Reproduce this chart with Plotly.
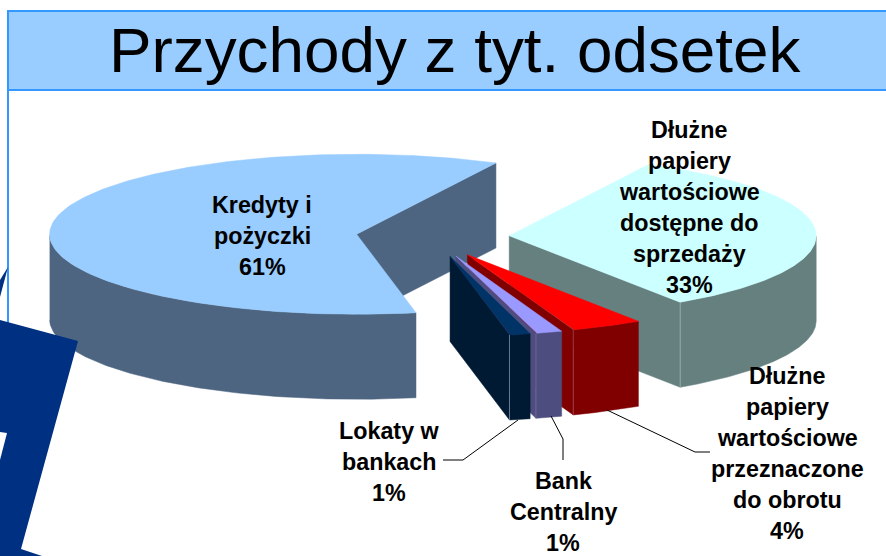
import numpy as np
import plotly.graph_objects as go

# ---- data (clockwise from the start angle) ----
categories = ["Dłużne papiery wartościowe dostępne do sprzedaży",
              "Dłużne papiery wartościowe przeznaczone do obrotu",
              "Bank Centralny", "Lokaty w bankach", "Kredyty i pożyczki"]
values = [33.1, 3.8, 1.4, 1.1, 60.6]
label_lines = [["Dłużne", "papiery", "wartościowe", "dostępne do", "sprzedaży"],
               ["Dłużne", "papiery", "wartościowe", "przeznaczone", "do obrotu"],
               ["Bank", "Centralny"], ["Lokaty w", "bankach"], ["Kredyty i", "pożyczki"]]

# ---- styles / layout ----
top_colors = ["#CCFFFF", "#FF0000", "#9999FF", "#003366", "#99CCFF"]
wall_colors = ["#668080", "#800000", "#4D4D80", "#001A33", "#4D6580"]
edge_colors = ["#9DB0B0", "#A04050", "#7A6A9A", "#7E8EA8", "#4D6580"]
label_pos = [(689, 130), (787, 376), (563, 481), (389, 431), (262, 205)]
LINE_H = 31
CX, CY, A, B, DEPTH, EXPLODE, START = 432.6, 237, 307, 80, 85, 0.25, 63
FONT = "Liberation Sans"

def pt(t, ox, oy, dz=0):
    r = np.radians(t)
    return ox + A * np.cos(r), oy - B * np.sin(r) + dz

fig = go.Figure()

def poly(xs, ys, color):
    fig.add_trace(go.Scatter(x=list(xs), y=list(ys), mode="lines", fill="toself",
                             fillcolor=color, line=dict(color=color, width=0.5),
                             hoverinfo="skip", showlegend=False))

def seg(xs, ys, color, width=1):
    fig.add_trace(go.Scatter(x=list(xs), y=list(ys), mode="lines",
                             line=dict(color=color, width=width),
                             hoverinfo="skip", showlegend=False))

# slices spans, clockwise from START
ends = START - np.cumsum(values) * 3.6
starts = np.concatenate(([START], ends[:-1]))
order = [4, 0, 1, 2, 3]  # back to front
for i in order:
    t1, t0 = starts[i], ends[i]      # t0 < t1
    mid = np.radians((t0 + t1) / 2)
    ox = CX + EXPLODE * A * np.cos(mid)
    oy = CY - EXPLODE * B * np.sin(mid)
    # radial walls facing the viewer
    for t, normal in ((t0, t0 - 90), (t1, t1 + 90)):
        if np.sin(np.radians(normal)) < 0:
            x, y = pt(t, ox, oy)
            poly([ox, x, x, ox, ox], [oy, y, y + DEPTH, oy + DEPTH, oy], wall_colors[i])
    # outer rim wall: visible where sin(t) <= 0
    ts = np.linspace(t0, t1, 240)
    vis = ts[np.sin(np.radians(ts)) <= 0]
    if len(vis):
        xa, ya = pt(vis, ox, oy)
        poly(np.concatenate((xa, xa[::-1])),
             np.concatenate((ya, (ya + DEPTH)[::-1])), wall_colors[i])
    # top surface
    xt, yt = pt(ts, ox, oy)
    poly(np.concatenate(([ox], xt, [ox])), np.concatenate(([oy], yt, [oy])), top_colors[i])
    # corner edge between radial wall and rim
    if i != 4:
        x, y = pt(t0, ox, oy)
        seg([x, x], [y, y + DEPTH], edge_colors[i], 0.8)

# leader lines
leaders = [([518, 463, 443], [420, 460, 460]),
           ([551, 563, 563], [416, 439, 460]),
           ([607, 695, 710], [410, 452, 452])]
for xs, ys in leaders:
    seg(xs, ys, "#000000", 1)

# labels, one annotation a line so the leading matches
annotations = []
for lines, val, (x, y) in zip(label_lines, values, label_pos):
    for k, txt in enumerate(lines + [f"{val:.0f}%"]):
        annotations.append(dict(x=x, y=y + k * LINE_H, text="<b>" + txt + "</b>", showarrow=False,
                                xref="x", yref="y", xanchor="center", yanchor="middle",
                                font=dict(family=FONT, size=23.3, color="#000000")))
annotations.append(dict(x=455, y=50, text="Przychody z tyt. odsetek", showarrow=False,
                        xref="x", yref="y", xanchor="center", yanchor="middle",
                        font=dict(family=FONT, size=63.8, color="#000000")))

NAVY = "#003082"
shapes = [
    dict(type="rect", x0=8, x1=890, y0=11, y1=90, fillcolor="#99CCFF",
         line=dict(color="#3399FF", width=2), layer="below"),
    dict(type="line", x0=8, x1=8, y0=90, y1=330, line=dict(color="#3399FF", width=2), layer="below"),
    dict(type="path", path="M0,320 L78,341 L21,549 L42,556 L0,556 Z", fillcolor=NAVY,
         line=dict(width=0), layer="above"),
    dict(type="path", path="M0,432 L7,433 L0,460 Z", fillcolor="#FFFFFF",
         line=dict(width=0), layer="above"),
    dict(type="path", path="M8,267 L0,280 L0,297 Z", fillcolor=NAVY,
         line=dict(width=0), layer="above"),
]

fig.update_layout(width=886, height=556, autosize=False,
                  margin=dict(l=0, r=0, t=0, b=0),
                  paper_bgcolor="#FFFFFF", plot_bgcolor="#FFFFFF",
                  xaxis=dict(range=[0, 886], visible=False, fixedrange=True),
                  yaxis=dict(range=[556, 0], visible=False, fixedrange=True),
                  showlegend=False, annotations=annotations, shapes=shapes)
fig.write_html("out.html", config=dict(displayModeBar=False),
               post_script="document.body.style.margin='0';")
